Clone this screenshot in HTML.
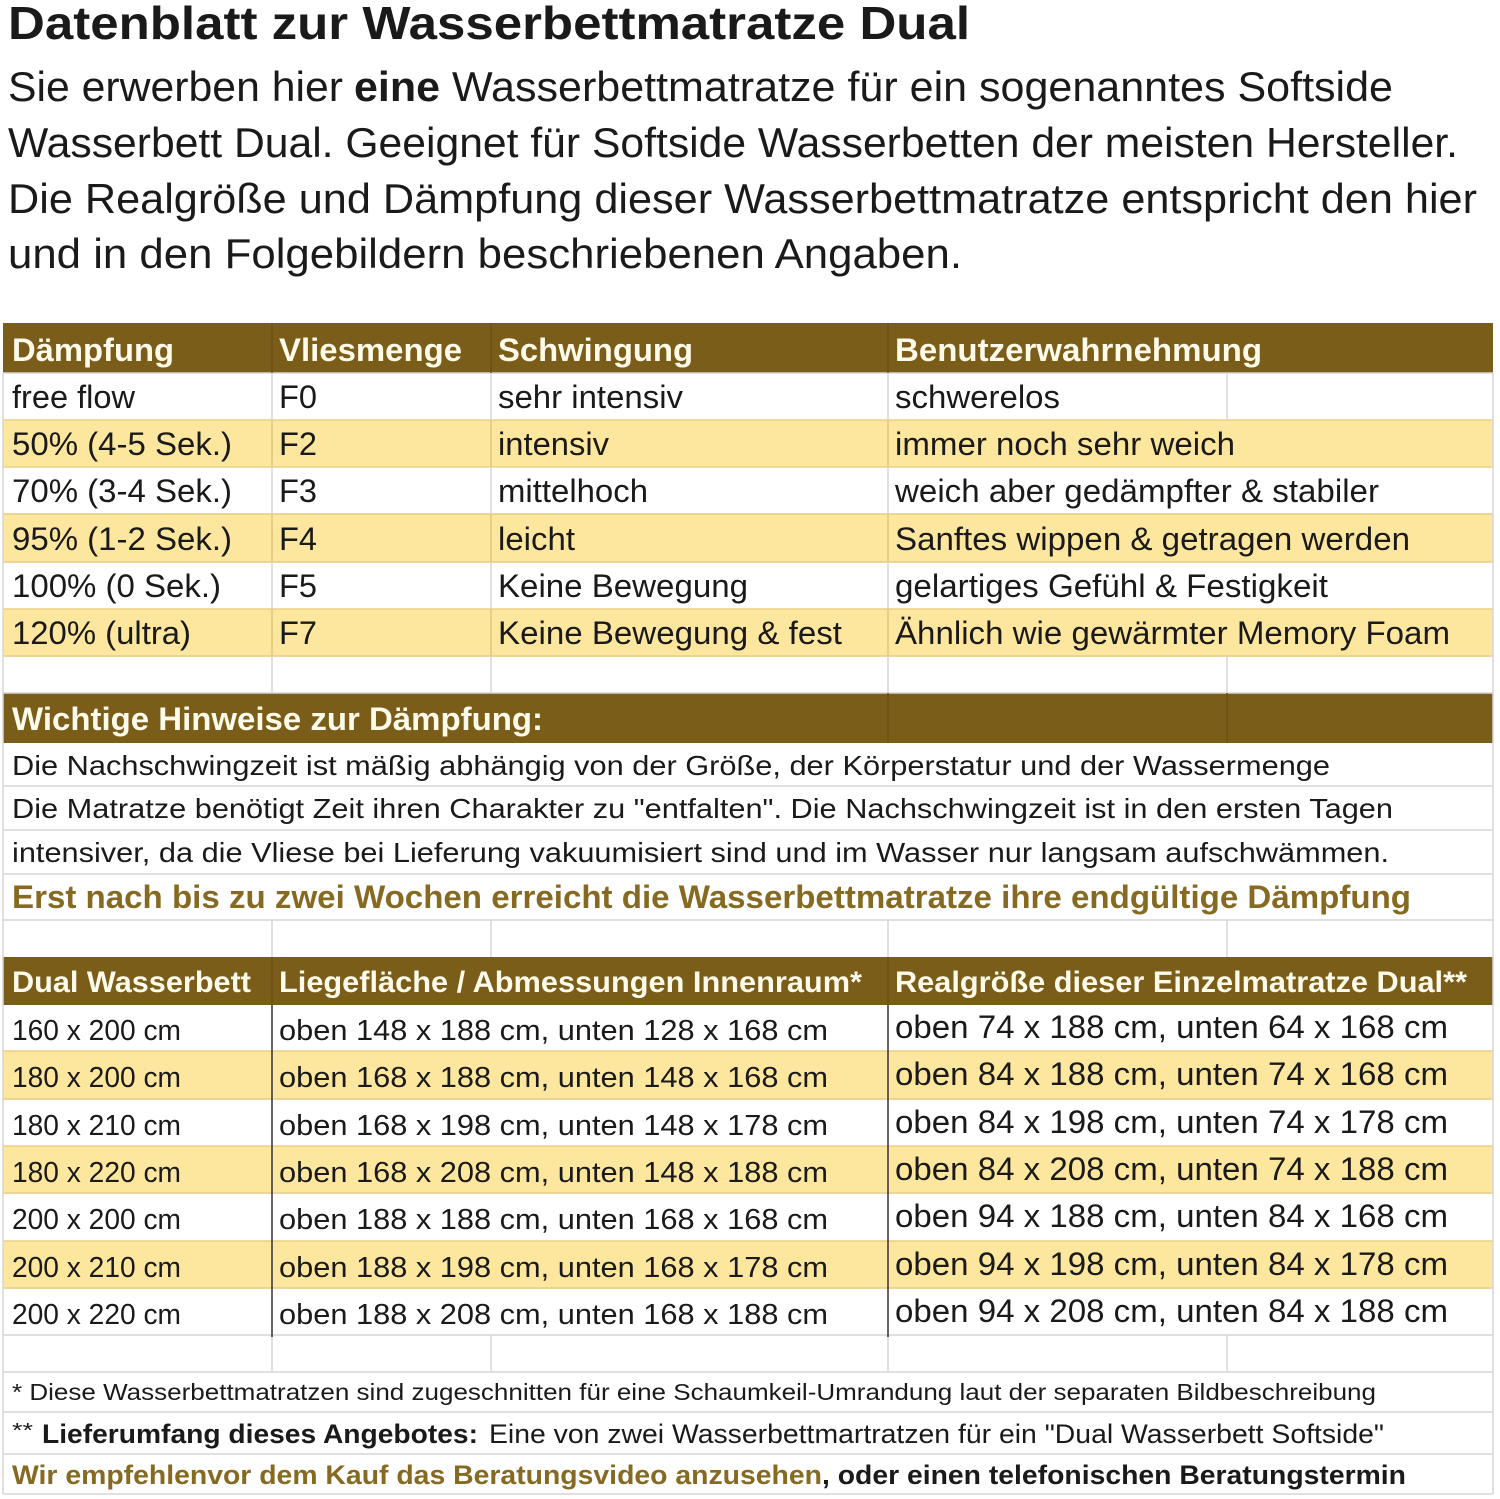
<!DOCTYPE html>
<html><head><meta charset="utf-8">
<style>
html,body{margin:0;padding:0;background:#fff;}
svg{display:block;}
text{font-family:"Liberation Sans",Arial,sans-serif;fill:#1a1a1a;}
.b{font-weight:bold;}
.h{font-weight:bold;fill:#fffbea;}
.g{font-weight:bold;fill:#866a22;}
</style></head>
<body>
<svg width="1500" height="1499" viewBox="0 0 1500 1499" xmlns="http://www.w3.org/2000/svg">
<rect x="0" y="0" width="1500" height="1499" fill="#fff"/>

<!-- Title + paragraph -->
<text x="8" y="39" class="b" font-size="46" textLength="962" lengthAdjust="spacingAndGlyphs">Datenblatt zur Wasserbettmatratze Dual</text>
<text x="8" y="101" font-size="42" textLength="335" lengthAdjust="spacingAndGlyphs">Sie erwerben hier</text>
<text x="354" y="101" class="b" font-size="42" textLength="86" lengthAdjust="spacingAndGlyphs">eine</text>
<text x="452" y="101" font-size="42" textLength="941" lengthAdjust="spacingAndGlyphs">Wasserbettmatratze für ein sogenanntes Softside</text>
<text x="8" y="157" font-size="42" textLength="1450" lengthAdjust="spacingAndGlyphs">Wasserbett Dual. Geeignet für Softside Wasserbetten der meisten Hersteller.</text>
<text x="8" y="213" font-size="42" textLength="1469" lengthAdjust="spacingAndGlyphs">Die Realgröße und Dämpfung dieser Wasserbettmatratze entspricht den hier</text>
<text x="8" y="268" font-size="42" textLength="954" lengthAdjust="spacingAndGlyphs">und in den Folgebildern beschriebenen Angaben.</text>

<!-- Backgrounds -->
<rect x="3" y="323" width="1490" height="50" fill="#7b5d1a"/>
<rect x="3" y="420" width="1490" height="47" fill="#fde69d"/>
<rect x="3" y="514" width="1490" height="48" fill="#fde69d"/>
<rect x="3" y="609" width="1490" height="47" fill="#fde69d"/>
<rect x="3" y="693" width="1490" height="50" fill="#7b5d1a"/>
<rect x="3" y="957" width="1490" height="48" fill="#7b5d1a"/>
<rect x="3" y="1051" width="1490" height="48" fill="#fde69d"/>
<rect x="3" y="1146" width="1490" height="47" fill="#fde69d"/>
<rect x="3" y="1241" width="1490" height="47" fill="#fde69d"/>

<!-- Horizontal grid lines -->
<g stroke="#d6d6d6" stroke-width="1.5">
<line x1="3" y1="373" x2="1493" y2="373"/>
<line x1="3" y1="514" x2="1493" y2="514"/>
<line x1="3" y1="562" x2="1493" y2="562"/>
<line x1="3" y1="656" x2="1493" y2="656"/>
<line x1="3" y1="693" x2="1493" y2="693"/>
<line x1="3" y1="786" x2="1493" y2="786"/>
<line x1="3" y1="830" x2="1493" y2="830"/>
<line x1="3" y1="874" x2="1493" y2="874"/>
<line x1="3" y1="920" x2="1493" y2="920"/>
<line x1="3" y1="1099" x2="1493" y2="1099"/>
<line x1="3" y1="1193" x2="1493" y2="1193"/>
<line x1="3" y1="1288" x2="1493" y2="1288"/>
<line x1="3" y1="1335" x2="1493" y2="1335"/>
<line x1="3" y1="1372" x2="1493" y2="1372"/>
<line x1="3" y1="1412" x2="1493" y2="1412"/>
<line x1="3" y1="1454" x2="1493" y2="1454"/>
<line x1="3" y1="1494" x2="1493" y2="1494"/>
</g>
<g stroke="#ecd083" stroke-width="1.5">
<line x1="3" y1="420" x2="1493" y2="420"/>
<line x1="3" y1="467" x2="1493" y2="467"/>
<line x1="3" y1="514" x2="1493" y2="514"/>
<line x1="3" y1="562" x2="1493" y2="562"/>
<line x1="3" y1="609" x2="1493" y2="609"/>
<line x1="3" y1="656" x2="1493" y2="656"/>
<line x1="3" y1="1051" x2="1493" y2="1051"/>
<line x1="3" y1="1099" x2="1493" y2="1099"/>
<line x1="3" y1="1146" x2="1493" y2="1146"/>
<line x1="3" y1="1193" x2="1493" y2="1193"/>
<line x1="3" y1="1241" x2="1493" y2="1241"/>
<line x1="3" y1="1288" x2="1493" y2="1288"/>
</g>

<!-- Vertical grid lines -->
<g stroke="#d6d6d6" stroke-width="1.5">
<line x1="3" y1="373" x2="3" y2="1494"/>
<line x1="1493" y1="373" x2="1493" y2="1494"/>
<line x1="272" y1="373" x2="272" y2="693"/>
<line x1="491" y1="373" x2="491" y2="693"/>
<line x1="888" y1="373" x2="888" y2="693"/>
<line x1="1227" y1="373" x2="1227" y2="420"/>
<line x1="1227" y1="656" x2="1227" y2="693"/>
<line x1="272" y1="920" x2="272" y2="957"/>
<line x1="491" y1="920" x2="491" y2="957"/>
<line x1="888" y1="920" x2="888" y2="957"/>
<line x1="1227" y1="920" x2="1227" y2="957"/>
<line x1="272" y1="1335" x2="272" y2="1372"/>
<line x1="491" y1="1335" x2="491" y2="1372"/>
<line x1="888" y1="1335" x2="888" y2="1372"/>
<line x1="1227" y1="1335" x2="1227" y2="1372"/>
</g>
<g stroke="#e6c976" stroke-width="1.5">
<line x1="272" y1="420" x2="272" y2="467"/>
<line x1="491" y1="420" x2="491" y2="467"/>
<line x1="888" y1="420" x2="888" y2="467"/>
<line x1="272" y1="514" x2="272" y2="562"/>
<line x1="491" y1="514" x2="491" y2="562"/>
<line x1="888" y1="514" x2="888" y2="562"/>
<line x1="272" y1="609" x2="272" y2="656"/>
<line x1="491" y1="609" x2="491" y2="656"/>
<line x1="888" y1="609" x2="888" y2="656"/>
</g>
<g stroke="#6a4f14" stroke-width="1.5">
<line x1="272" y1="323" x2="272" y2="373"/>
<line x1="491" y1="323" x2="491" y2="373"/>
<line x1="888" y1="323" x2="888" y2="373"/>
<line x1="888" y1="693" x2="888" y2="743"/>
<line x1="1227" y1="693" x2="1227" y2="743"/>
<line x1="272" y1="957" x2="272" y2="1005"/>
<line x1="888" y1="957" x2="888" y2="1005"/>
</g>
<g stroke="#333" stroke-width="1.5">
<line x1="272" y1="1005" x2="272" y2="1337"/>
<line x1="888" y1="1005" x2="888" y2="1337"/>
</g>

<!-- Table 1 header -->
<text x="12" y="361" class="h" font-size="32" textLength="162" lengthAdjust="spacingAndGlyphs">Dämpfung</text>
<text x="279" y="361" class="h" font-size="32" textLength="183" lengthAdjust="spacingAndGlyphs">Vliesmenge</text>
<text x="498" y="361" class="h" font-size="32" textLength="195" lengthAdjust="spacingAndGlyphs">Schwingung</text>
<text x="895" y="361" class="h" font-size="32" textLength="367" lengthAdjust="spacingAndGlyphs">Benutzerwahrnehmung</text>

<!-- Table 1 rows -->
<g font-size="32">
<text x="12" y="408" textLength="123" lengthAdjust="spacingAndGlyphs">free flow</text>
<text x="279" y="408" textLength="38" lengthAdjust="spacingAndGlyphs">F0</text>
<text x="498" y="408" textLength="185" lengthAdjust="spacingAndGlyphs">sehr intensiv</text>
<text x="895" y="408" textLength="165" lengthAdjust="spacingAndGlyphs">schwerelos</text>

<text x="12" y="455" textLength="220" lengthAdjust="spacingAndGlyphs">50% (4-5 Sek.)</text>
<text x="279" y="455" textLength="38" lengthAdjust="spacingAndGlyphs">F2</text>
<text x="498" y="455" textLength="111" lengthAdjust="spacingAndGlyphs">intensiv</text>
<text x="895" y="455" textLength="340" lengthAdjust="spacingAndGlyphs">immer noch sehr weich</text>

<text x="12" y="502" textLength="220" lengthAdjust="spacingAndGlyphs">70% (3-4 Sek.)</text>
<text x="279" y="502" textLength="38" lengthAdjust="spacingAndGlyphs">F3</text>
<text x="498" y="502" textLength="150" lengthAdjust="spacingAndGlyphs">mittelhoch</text>
<text x="895" y="502" textLength="484" lengthAdjust="spacingAndGlyphs">weich aber gedämpfter &amp; stabiler</text>

<text x="12" y="550" textLength="220" lengthAdjust="spacingAndGlyphs">95% (1-2 Sek.)</text>
<text x="279" y="550" textLength="38" lengthAdjust="spacingAndGlyphs">F4</text>
<text x="498" y="550" textLength="77" lengthAdjust="spacingAndGlyphs">leicht</text>
<text x="895" y="550" textLength="515" lengthAdjust="spacingAndGlyphs">Sanftes wippen &amp; getragen werden</text>

<text x="12" y="597" textLength="209" lengthAdjust="spacingAndGlyphs">100% (0 Sek.)</text>
<text x="279" y="597" textLength="38" lengthAdjust="spacingAndGlyphs">F5</text>
<text x="498" y="597" textLength="250" lengthAdjust="spacingAndGlyphs">Keine Bewegung</text>
<text x="895" y="597" textLength="433" lengthAdjust="spacingAndGlyphs">gelartiges Gefühl &amp; Festigkeit</text>

<text x="12" y="644" textLength="179" lengthAdjust="spacingAndGlyphs">120% (ultra)</text>
<text x="279" y="644" textLength="38" lengthAdjust="spacingAndGlyphs">F7</text>
<text x="498" y="644" textLength="344" lengthAdjust="spacingAndGlyphs">Keine Bewegung &amp; fest</text>
<text x="895" y="644" textLength="555" lengthAdjust="spacingAndGlyphs">Ähnlich wie gewärmter Memory Foam</text>
</g>

<!-- Section 2 -->
<text x="12" y="730" class="h" font-size="32" textLength="531" lengthAdjust="spacingAndGlyphs">Wichtige Hinweise zur Dämpfung:</text>
<g font-size="28">
<text x="12" y="775" textLength="1318" lengthAdjust="spacingAndGlyphs">Die Nachschwingzeit ist mäßig abhängig von der Größe, der Körperstatur und der Wassermenge</text>
<text x="12" y="818" textLength="1381" lengthAdjust="spacingAndGlyphs">Die Matratze benötigt Zeit ihren Charakter zu "entfalten". Die Nachschwingzeit ist in den ersten Tagen</text>
<text x="12" y="862" textLength="1377" lengthAdjust="spacingAndGlyphs">intensiver, da die Vliese bei Lieferung vakuumisiert sind und im Wasser nur langsam aufschwämmen.</text>
</g>
<text x="12" y="908" class="g" font-size="32" textLength="1399" lengthAdjust="spacingAndGlyphs">Erst nach bis zu zwei Wochen erreicht die Wasserbettmatratze ihre endgültige Dämpfung</text>

<!-- Table 3 header -->
<text x="12" y="992" class="h" font-size="30" textLength="239" lengthAdjust="spacingAndGlyphs">Dual Wasserbett</text>
<text x="279" y="992" class="h" font-size="30" textLength="583" lengthAdjust="spacingAndGlyphs">Liegefläche / Abmessungen Innenraum*</text>
<text x="895" y="992" class="h" font-size="30" textLength="572" lengthAdjust="spacingAndGlyphs">Realgröße dieser Einzelmatratze Dual**</text>

<!-- Table 3 rows -->
<g font-size="29">
<text x="12" y="1040" textLength="169" lengthAdjust="spacingAndGlyphs">160 x 200 cm</text>
<text x="279" y="1040" textLength="549" lengthAdjust="spacingAndGlyphs">oben 148 x 188 cm, unten 128 x 168 cm</text>
<text x="12" y="1087" textLength="169" lengthAdjust="spacingAndGlyphs">180 x 200 cm</text>
<text x="279" y="1087" textLength="549" lengthAdjust="spacingAndGlyphs">oben 168 x 188 cm, unten 148 x 168 cm</text>
<text x="12" y="1135" textLength="169" lengthAdjust="spacingAndGlyphs">180 x 210 cm</text>
<text x="279" y="1135" textLength="549" lengthAdjust="spacingAndGlyphs">oben 168 x 198 cm, unten 148 x 178 cm</text>
<text x="12" y="1182" textLength="169" lengthAdjust="spacingAndGlyphs">180 x 220 cm</text>
<text x="279" y="1182" textLength="549" lengthAdjust="spacingAndGlyphs">oben 168 x 208 cm, unten 148 x 188 cm</text>
<text x="12" y="1229" textLength="169" lengthAdjust="spacingAndGlyphs">200 x 200 cm</text>
<text x="279" y="1229" textLength="549" lengthAdjust="spacingAndGlyphs">oben 188 x 188 cm, unten 168 x 168 cm</text>
<text x="12" y="1277" textLength="169" lengthAdjust="spacingAndGlyphs">200 x 210 cm</text>
<text x="279" y="1277" textLength="549" lengthAdjust="spacingAndGlyphs">oben 188 x 198 cm, unten 168 x 178 cm</text>
<text x="12" y="1324" textLength="169" lengthAdjust="spacingAndGlyphs">200 x 220 cm</text>
<text x="279" y="1324" textLength="549" lengthAdjust="spacingAndGlyphs">oben 188 x 208 cm, unten 168 x 188 cm</text>
</g>
<g font-size="32">
<text x="895" y="1038" textLength="553" lengthAdjust="spacingAndGlyphs">oben 74 x 188 cm, unten 64 x 168 cm</text>
<text x="895" y="1085" textLength="553" lengthAdjust="spacingAndGlyphs">oben 84 x 188 cm, unten 74 x 168 cm</text>
<text x="895" y="1133" textLength="553" lengthAdjust="spacingAndGlyphs">oben 84 x 198 cm, unten 74 x 178 cm</text>
<text x="895" y="1180" textLength="553" lengthAdjust="spacingAndGlyphs">oben 84 x 208 cm, unten 74 x 188 cm</text>
<text x="895" y="1227" textLength="553" lengthAdjust="spacingAndGlyphs">oben 94 x 188 cm, unten 84 x 168 cm</text>
<text x="895" y="1275" textLength="553" lengthAdjust="spacingAndGlyphs">oben 94 x 198 cm, unten 84 x 178 cm</text>
<text x="895" y="1322" textLength="553" lengthAdjust="spacingAndGlyphs">oben 94 x 208 cm, unten 84 x 188 cm</text>
</g>

<!-- Footnotes -->
<text x="12" y="1400" font-size="23" textLength="1364" lengthAdjust="spacingAndGlyphs">* Diese Wasserbettmatratzen sind zugeschnitten für eine Schaumkeil-Umrandung laut der separaten Bildbeschreibung</text>
<text x="12" y="1437" font-size="20" textLength="21" lengthAdjust="spacingAndGlyphs">**</text>
<text x="42" y="1443" class="b" font-size="27" textLength="436" lengthAdjust="spacingAndGlyphs">Lieferumfang dieses Angebotes:</text>
<text x="489" y="1443" font-size="27" textLength="895" lengthAdjust="spacingAndGlyphs">Eine von zwei Wasserbettmartratzen für ein "Dual Wasserbett Softside"</text>
<text x="12" y="1484" class="g" font-size="27" textLength="810" lengthAdjust="spacingAndGlyphs">Wir empfehlenvor dem Kauf das Beratungsvideo anzusehen</text>
<text x="822" y="1484" class="b" font-size="27" textLength="584" lengthAdjust="spacingAndGlyphs">, oder einen telefonischen Beratungstermin</text>
</svg>
</body></html>
